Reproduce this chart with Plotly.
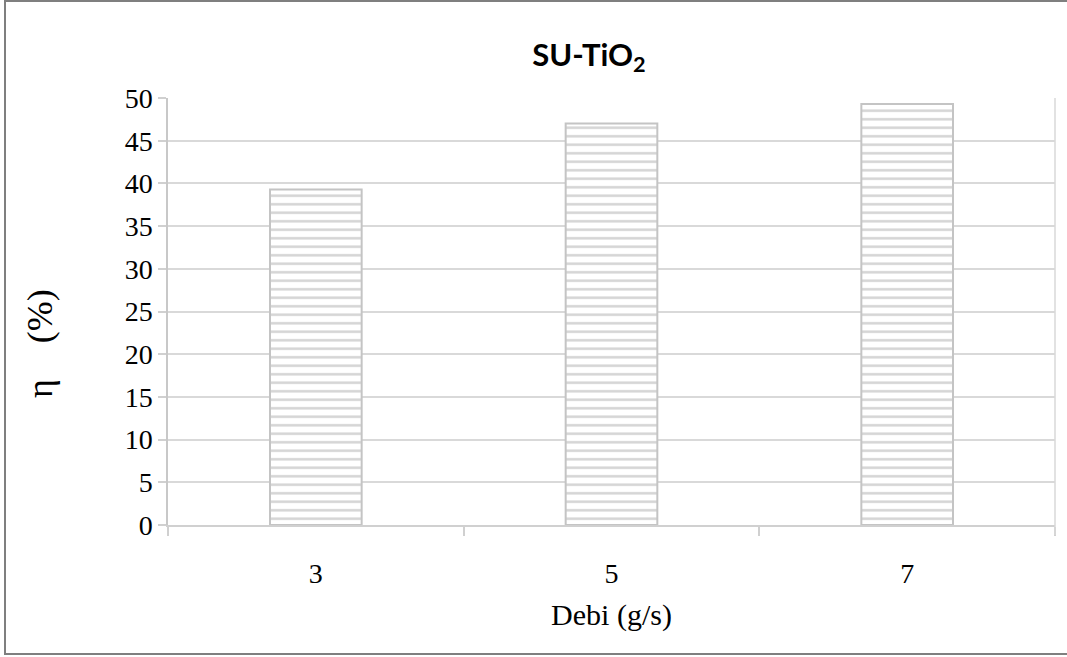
import plotly.graph_objects as go

categories = ["3", "5", "7"]
values = [39.3, 47.0, 49.3]
y_ticks = [0, 5, 10, 15, 20, 25, 30, 35, 40, 45, 50]

W, H = 1067, 657
L, R, T, B = 168, 1055, 98, 525

def px_x(p):
    return (p - L) / (R - L)

def px_y(p):
    return (B - p) / (B - T)

fig = go.Figure(go.Bar(
    x=categories, y=values,
    marker=dict(
        color="white",
        line=dict(color="#c4c4c4", width=2),
        pattern=dict(shape="-", size=8.5, solidity=0.3, fgcolor="#a9a9a9", bgcolor="white", fillmode="overlay"),
    ),
    width=0.31,
))

fig.update_layout(
    width=W, height=H,
    margin=dict(l=L, r=W - R, t=T, b=H - B),
    paper_bgcolor="white", plot_bgcolor="white",
    showlegend=False,
    title=dict(text="<b>SU-TiO<sub>2</sub></b>", x=589 / W, xanchor="center",
               y=1 - 55 / H, yanchor="middle",
               font=dict(family="Lato, Open Sans, sans-serif", size=31, color="black")),
    font=dict(family="Liberation Serif, Times New Roman, serif", color="black"),
    xaxis=dict(
        type="category", tickson="boundaries", ticks="outside", ticklen=9, tickcolor="#d0d0d0", tickwidth=1.5,
        showgrid=False, showline=True, linecolor="#d0d0d0", linewidth=1.5,
        tickfont=dict(size=28), ticklabelstandoff=23,
        title=dict(text="Debi (g/s)", font=dict(size=30), standoff=16),
    ),
    yaxis=dict(
        range=[0, 50], tickvals=y_ticks, ticks="outside", ticklen=8, tickcolor="#d0d0d0", tickwidth=1.5,
        showgrid=True, gridcolor="#d9d9d9", gridwidth=1.5,
        showline=True, linecolor="#c8c8c8", linewidth=1.5, mirror=False, zeroline=False,
        tickfont=dict(size=28),
    ),
    annotations=[
        dict(text="η\u00a0\u00a0\u00a0\u00a0(%)", textangle=-90, showarrow=False,
             xref="paper", yref="paper", x=px_x(40), y=px_y(344), xanchor="center", yanchor="middle",
             font=dict(size=36, family="Liberation Serif, Times New Roman, serif", color="black")),
    ],
    shapes=[
        dict(type="rect", xref="paper", yref="paper",
             x0=px_x(5), x1=px_x(1075), y0=px_y(654), y1=px_y(1),
             line=dict(color="#7f7f7f", width=2), fillcolor="rgba(0,0,0,0)", layer="below"),
        dict(type="line", xref="paper", yref="paper", x0=1, x1=1, y0=px_y(535), y1=1,
             line=dict(color="#d9d9d9", width=1.5)),
    ],
)

fig.write_html("out.html", config={"displayModeBar": False},
               post_script="document.body.style.margin='0px';document.body.style.overflow='hidden';")
